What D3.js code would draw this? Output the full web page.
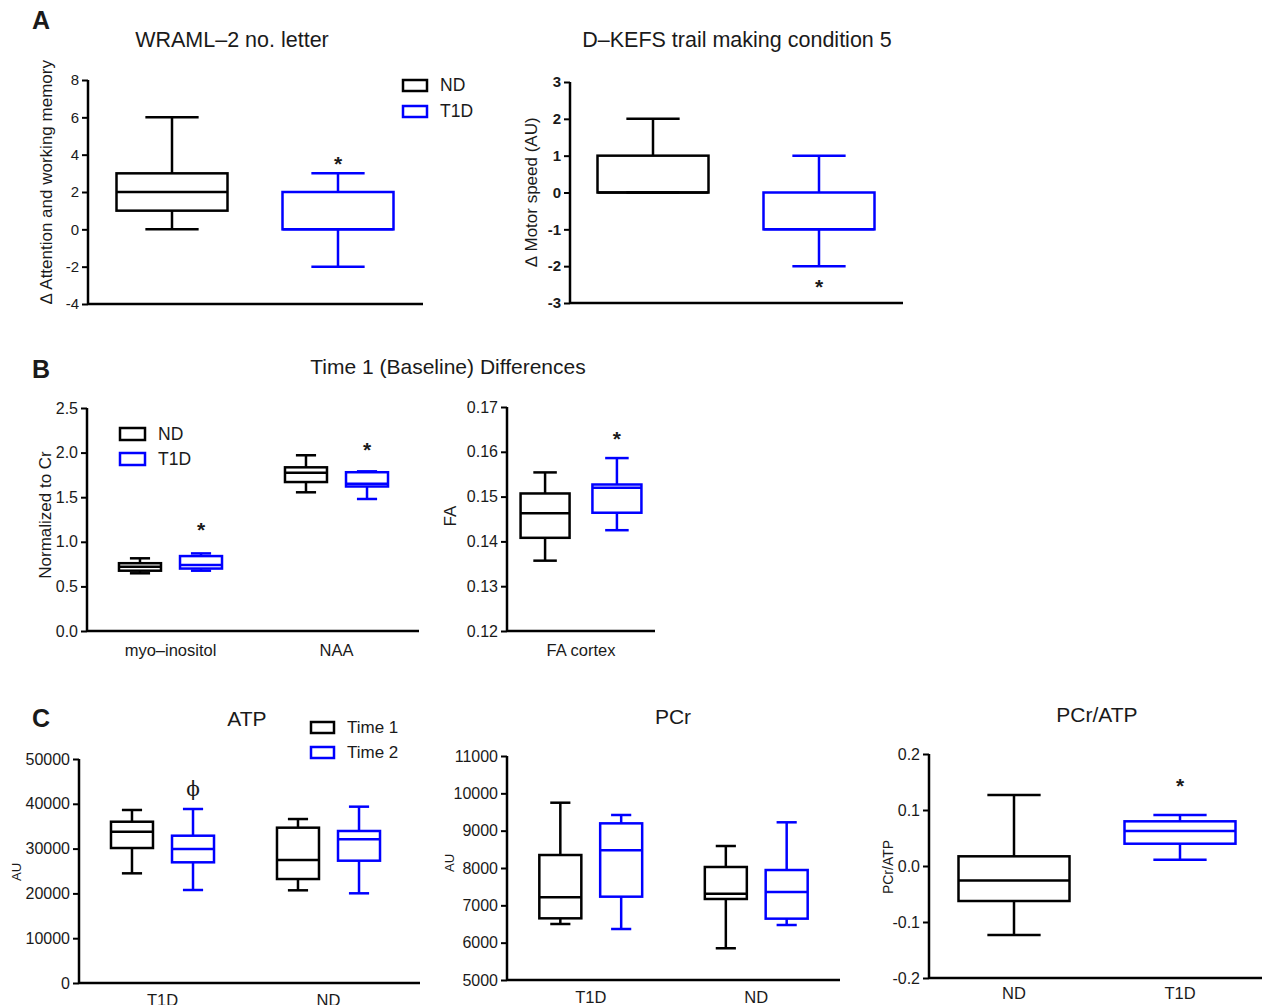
<!DOCTYPE html>
<html>
<head>
<meta charset="utf-8">
<script src="https://cdn.jsdelivr.net/npm/d3@7"></script>
<style>
  body { margin: 0; background: #fff; }
  text { font-family: "Liberation Sans", Arial, sans-serif; fill: #1a1a1a; }
</style>
</head>
<body>
<svg id="fig" width="1262" height="1005"></svg>
<script>
// box stats are [min, q1, median, q3, max]
var groups = ["ND", "T1D"];
var times = ["Time 1", "Time 2"];

var wramlStats = [[0, 1, 2, 3, 6], [-2, 0, 0, 2, 3]];
var kefsStats = [[0, 0, 0, 1, 2], [-2, -1, -1, 0, 1]];

var mrsCats = ["myo–inositol", "NAA"];
var mrsStats = [
  [[0.647, 0.676, 0.72, 0.76, 0.815], [0.676, 0.70, 0.74, 0.84, 0.87]],
  [[1.555, 1.67, 1.775, 1.835, 1.97], [1.48, 1.62, 1.65, 1.78, 1.79]]
];
var faCats = ["FA cortex"];
var faStats = [
  [[0.1357, 0.1408, 0.1463, 0.1507, 0.1554], [0.1425, 0.1464, 0.152, 0.1527, 0.1586]]
];

var subjCats = ["T1D", "ND"];
var atpStats = [
  [[24480, 30130, 33770, 36000, 38620], [20760, 26940, 29910, 32880, 38840]],
  [[20690, 23210, 27460, 34670, 36600], [20020, 27300, 32080, 33930, 39360]]
];
var pcrStats = [
  [[6500, 6652, 7215, 8348, 9749], [6366, 7232, 8474, 9196, 9420]],
  [[5850, 7170, 7312, 8027, 8589], [6473, 6643, 7357, 7946, 9224]]
];
var ratioCats = ["ND", "T1D"];
var ratioStats = [[-0.123, -0.0625, -0.026, 0.0173, 0.127], [0.0113, 0.0398, 0.0625, 0.0798, 0.091]];

var colors = ["#000000", "#0000ff"];

var svg = d3.select("#fig");

// d3 puts a real minus sign in, the figure uses a plain hyphen
function fmt(spec) {
  var f = d3.format(spec);
  return function(v) { return f(v).replace("−", "-"); };
}

// generic GraphPad-like box panel
function panel(o) {
  var g = svg.append("g");
  var y = d3.scaleLinear().domain(o.domain).range([o.bottom, o.top]);
  var xb = d3.scaleBand().domain(o.cats).range(o.band);
  var xs = d3.scalePoint().domain(o.subs).range([0, xb.bandwidth()]).padding(o.subPad);

  // x axis line (no ticks)
  g.append("line")
    .attr("x1", o.left).attr("x2", o.right)
    .attr("y1", o.bottom).attr("y2", o.bottom)
    .attr("stroke", "#000").attr("stroke-width", 2.5);

  var ya = g.append("g")
    .attr("transform", "translate(" + o.left + ",0)")
    .call(d3.axisLeft(y).tickValues(o.ticks).tickFormat(o.fmt).tickSize(6).tickSizeOuter(0).tickPadding(3));
  ya.select(".domain").attr("stroke-width", 2.5).attr("d", "M0," + (o.bottom + 1) + "V" + o.top);
  ya.selectAll(".tick line").attr("stroke-width", 2);
  ya.selectAll(".tick text")
    .style("font-family", "'Liberation Sans', Arial, sans-serif")
    .style("font-size", o.tickSize || "16px")
    .style("font-weight", o.boldTicks ? "bold" : "normal")
    .attr("fill", "#222");

  if (o.showCats) {
    g.selectAll(".cat").data(o.cats).enter().append("text")
      .attr("x", function(d) { return xb(d) + xb.bandwidth() / 2; })
      .attr("y", o.catY)
      .attr("text-anchor", "middle")
      .style("font-size", "16.5px")
      .text(function(d) { return d; });
  }

  var boxes = [];
  o.cats.forEach(function(c, i) {
    o.subs.forEach(function(s, j) {
      boxes.push({ cx: xb(c) + xs(s), st: o.stats[i][j], color: o.colorOf(i, j) });
    });
  });

  var bw = o.boxW, cw = o.boxW * 0.48;
  var b = g.selectAll(".box").data(boxes).enter().append("g")
    .attr("stroke", function(d) { return d.color; })
    .attr("stroke-width", 2.5).attr("fill", "none");
  b.append("line").attr("x1", function(d) { return d.cx; }).attr("x2", function(d) { return d.cx; })
    .attr("y1", function(d) { return y(d.st[0]); }).attr("y2", function(d) { return y(d.st[1]); });
  b.append("line").attr("x1", function(d) { return d.cx; }).attr("x2", function(d) { return d.cx; })
    .attr("y1", function(d) { return y(d.st[3]); }).attr("y2", function(d) { return y(d.st[4]); });
  [0, 4].forEach(function(k) {
    b.append("line")
      .attr("x1", function(d) { return d.cx - cw / 2; }).attr("x2", function(d) { return d.cx + cw / 2; })
      .attr("y1", function(d) { return y(d.st[k]); }).attr("y2", function(d) { return y(d.st[k]); });
  });
  b.append("rect")
    .attr("x", function(d) { return d.cx - bw / 2; }).attr("width", bw)
    .attr("y", function(d) { return y(d.st[3]); })
    .attr("height", function(d) { return y(d.st[1]) - y(d.st[3]); });
  b.append("line")
    .attr("x1", function(d) { return d.cx - bw / 2; }).attr("x2", function(d) { return d.cx + bw / 2; })
    .attr("y1", function(d) { return y(d.st[2]); }).attr("y2", function(d) { return y(d.st[2]); });

  // significance marks: [catIndex, subIndex, value, symbol]
  (o.marks || []).forEach(function(m) {
    g.append("text")
      .attr("x", xb(o.cats[m[0]]) + xs(o.subs[m[1]]))
      .attr("y", y(m[2]) + (m[3] === "*" ? 9 : 6))
      .attr("text-anchor", "middle")
      .style("font-size", m[3] === "*" ? "21px" : "20px")
      .style("font-weight", m[3] === "*" ? "bold" : "normal")
      .style("font-family", m[3] === "*" ? "'Liberation Sans', Arial" : "'DejaVu Serif', serif")
      .text(m[3]);
  });

  // y label
  g.append("text")
    .attr("transform", "translate(" + o.yLabX + "," + o.yLabY + ") rotate(-90)")
    .attr("text-anchor", "middle").attr("dy", "0.35em")
    .style("font-size", o.yLabSize || "17px")
    .text(o.yLabel);

  if (o.title) {
    g.append("text").attr("x", o.titleX).attr("y", o.titleY)
      .attr("text-anchor", "middle").style("font-size", o.titleSize || "21.5px")
      .text(o.title);
  }
  return g;
}

function legend(x, y0, dy, labels, w, h, size) {
  var lg = svg.append("g");
  labels.forEach(function(l, i) {
    lg.append("rect").attr("x", x).attr("y", y0 + i * dy).attr("width", w).attr("height", h)
      .attr("fill", "none").attr("stroke", colors[i]).attr("stroke-width", 2.5);
    lg.append("text").attr("x", x + w + 13).attr("y", y0 + i * dy + h - 0.5)
      .style("font-size", size).text(l);
  });
}

function letter(t, x, y) {
  svg.append("text").attr("x", x).attr("y", y)
    .style("font-size", "25px").style("font-weight", "bold")
    .style("font-family", "'Liberation Sans', Arial").text(t);
}

var one = ["all"];

// ---------- A ----------
letter("A", 32, 29);
panel({
  left: 88, right: 423, top: 80, bottom: 304,
  domain: [-4, 8], ticks: d3.range(-4, 9, 2), fmt: fmt("d"), tickSize: "15px",
  band: [89, 421], cats: groups, subs: one, subPad: 0.5, showCats: false,
  stats: wramlStats.map(function(s) { return [s]; }),
  colorOf: function(i) { return colors[i]; }, boxW: 111,
  marks: [[1, 0, 3.6, "*"]],
  yLabel: "∆ Attention and working memory", yLabX: 46, yLabY: 182, yLabSize: "17px",
  title: "WRAML–2 no. letter", titleX: 232, titleY: 47
});
legend(403, 80, 26, groups, 24, 11, "17.5px");

panel({
  left: 570, right: 903, top: 82, bottom: 303,
  domain: [-3, 3], ticks: d3.range(-3, 4, 1), fmt: fmt("d"), boldTicks: true, tickSize: "15px",
  band: [570, 902], cats: groups, subs: one, subPad: 0.5, showCats: false,
  stats: kefsStats.map(function(s) { return [s]; }),
  colorOf: function(i) { return colors[i]; }, boxW: 111,
  marks: [[1, 0, -2.5, "*"]],
  yLabel: "∆ Motor speed (AU)", yLabX: 531, yLabY: 192, yLabSize: "17px",
  title: "D–KEFS trail making condition 5", titleX: 737, titleY: 47
});

// ---------- B ----------
letter("B", 32, 378);
svg.append("text").attr("x", 448).attr("y", 374).attr("text-anchor", "middle")
  .style("font-size", "21px").text("Time 1 (Baseline) Differences");

panel({
  left: 87, right: 419, top: 408, bottom: 631,
  domain: [0, 2.5], ticks: d3.range(0, 2.51, 0.5), fmt: fmt(".1f"),
  band: [87.5, 419.5], cats: mrsCats, subs: groups, subPad: 0.86, showCats: true, catY: 656,
  stats: mrsStats, colorOf: function(i, j) { return colors[j]; }, boxW: 42,
  marks: [[0, 1, 1.155, "*"], [1, 1, 2.05, "*"]],
  yLabel: "Normalized to Cr", yLabX: 45, yLabY: 515
});
legend(120, 428, 25, groups, 25, 12, "17.5px");

panel({
  left: 507, right: 655, top: 407, bottom: 631,
  domain: [0.12, 0.17], ticks: [0.12, 0.13, 0.14, 0.15, 0.16, 0.17], fmt: fmt(".2f"),
  band: [507, 655], cats: faCats, subs: groups, subPad: 0.53, showCats: true, catY: 656,
  stats: faStats, colorOf: function(i, j) { return colors[j]; }, boxW: 49,
  marks: [[0, 1, 0.1633, "*"]],
  yLabel: "FA", yLabX: 450, yLabY: 516
});

// ---------- C ----------
letter("C", 32, 727);
panel({
  left: 79, right: 420, top: 759, bottom: 983,
  domain: [0, 50000], ticks: d3.range(0, 50001, 10000), fmt: fmt("d"),
  band: [79.5, 411.5], cats: subjCats, subs: times, subPad: 0.86, showCats: true, catY: 1006,
  stats: atpStats, colorOf: function(i, j) { return colors[j]; }, boxW: 42,
  marks: [[0, 1, 43080, "ϕ"]],
  yLabel: "AU", yLabX: 16, yLabY: 872, yLabSize: "13px",
  title: "ATP", titleX: 247, titleY: 726, titleSize: "21px"
});
legend(311, 722, 25, times, 23, 11, "17px");

panel({
  left: 507, right: 840, top: 756, bottom: 980,
  domain: [5000, 11000], ticks: d3.range(5000, 11001, 1000), fmt: fmt("d"),
  band: [508, 839], cats: subjCats, subs: times, subPad: 0.86, showCats: true, catY: 1003,
  stats: pcrStats, colorOf: function(i, j) { return colors[j]; }, boxW: 42,
  yLabel: "AU", yLabX: 449, yLabY: 863, yLabSize: "13px",
  title: "PCr", titleX: 673, titleY: 724, titleSize: "21px"
});

panel({
  left: 929, right: 1262, top: 754, bottom: 978,
  domain: [-0.2, 0.2], ticks: [-0.2, -0.1, 0, 0.1, 0.2], fmt: fmt(".1f"),
  band: [931, 1263], cats: ratioCats, subs: one, subPad: 0.5, showCats: true, catY: 999,
  stats: ratioStats.map(function(s) { return [s]; }),
  colorOf: function(i) { return colors[i]; }, boxW: 111,
  marks: [[1, 0, 0.146, "*"]],
  yLabel: "PCr/ATP", yLabX: 888, yLabY: 867, yLabSize: "14px",
  title: "PCr/ATP", titleX: 1097, titleY: 722, titleSize: "21px"
});
</script>
</body>
</html>
